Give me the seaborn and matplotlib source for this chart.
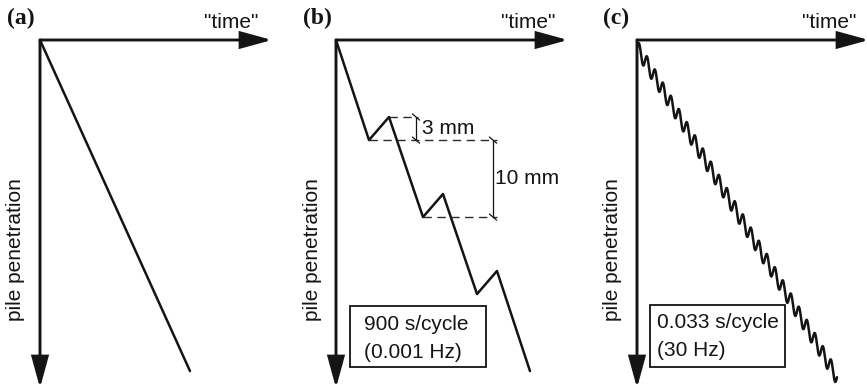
import numpy as np
import pandas as pd
import seaborn as sns
import matplotlib
matplotlib.use("Agg")
import matplotlib.pyplot as plt
from matplotlib.patches import Rectangle

# ---- data -------------------------------------------------------------
# (a) monotonic penetration
time_a = [0, 2500]          # s
pen_a = [0, 43]             # mm

# (b) slow cycling: 13 mm down, 3 mm rebound, 900 s per cycle
time_b = [0, 550, 883, 1450, 1783, 2350, 2683, 3233]
pen_b = [0, 13, 10, 23, 20, 33, 30, 43]

# (c) fast cycling: trend end points and oscillation
time_c = [0, 3333]
pen_c = [0, 42.8]
cycles_c = 25
amp_c = 1.0                 # mm

panel_letters = ["(a)", "(b)", "(c)"]
box_texts = [None, ["900 s/cycle", "(0.001 Hz)"], ["0.033 s/cycle", "(30 Hz)"]]
x_label = '"time"'
y_label = "pile penetration"

# ---- style ------------------------------------------------------------
sns.set_theme(style="white")
plt.rcParams["font.family"] = ["Liberation Sans", "DejaVu Sans"]

W, H = 867, 390
fig = plt.figure(figsize=(W / 100, H / 100), dpi=100)
fig.patch.set_facecolor("white")

INK = "#141414"
FS = 15
AX_W, AX_H = 240, 348        # axes box in pixels
T_MAX, P_MAX = 4000, 45.2    # data range covered by that box


def fx(x):
    return x / W


def fy(y):
    return 1 - y / H


def make_axes(x0, y0=40):
    ax = fig.add_axes([fx(x0), fy(y0 + AX_H), AX_W / W, AX_H / H])
    ax.set_xlim(0, T_MAX)
    ax.set_ylim(P_MAX, 0)
    ax.axis("off")
    # axis arrows
    arrow = dict(arrowstyle="-|>,head_length=1.9,head_width=0.52",
                 mutation_scale=10, lw=2.1, color=INK,
                 shrinkA=0, shrinkB=0, joinstyle="miter")
    ax.annotate("", xy=(232 / AX_W, 1), xytext=(0, 1),
                xycoords="axes fraction", arrowprops=arrow, annotation_clip=False)
    ax.annotate("", xy=(0, 0), xytext=(0, 1),
                xycoords="axes fraction", arrowprops=arrow, annotation_clip=False)
    return ax


origins = [40, 336, 637]
axes = [make_axes(x0) for x0 in origins]

# panel (a)
sns.lineplot(x=time_a, y=pen_a, ax=axes[0], color=INK, lw=1.8,
             sort=False, estimator=None)

# panel (b)
ax = axes[1]
sns.lineplot(x=time_b, y=pen_b, ax=ax, color=INK, lw=1.8,
             sort=False, estimator=None)
dash = dict(color="#2a2a2a", lw=1.0, ls=(0, (6, 4)))
t_dim3, t_dim10, t_dash_end = 1333, 2617, 2683
ax.plot([time_b[2], t_dim3 + 30], [pen_b[2], pen_b[2]], **dash)
ax.plot([time_b[1], t_dash_end], [pen_b[1], pen_b[1]], **dash)
ax.plot([time_b[3], t_dash_end], [pen_b[3], pen_b[3]], **dash)


def dimension(ax, t, p0, p1):
    ax.plot([t, t], [p0, p1], color=INK, lw=0.9)
    for p in (p0, p1):
        ax.plot([t - 60, t + 60], [p - 0.4, p + 0.4], color=INK, lw=0.9)


dimension(ax, t_dim3, pen_b[2], pen_b[1])
dimension(ax, t_dim10, pen_b[1], pen_b[3])
ax.text(t_dim3 + 95, (pen_b[1] + pen_b[2]) / 2, "3 mm", fontsize=FS,
        color=INK, va="center", ha="left")
ax.text(t_dim10 + 40, (pen_b[1] + pen_b[3]) / 2, "10 mm", fontsize=FS,
        color=INK, va="center", ha="left")

# panel (c)
ax = axes[2]
t = np.linspace(time_c[0], time_c[1], 4000)
trend = np.interp(t, time_c, pen_c)
omega = 2 * np.pi * cycles_c / time_c[1]
wave = trend + amp_c + amp_c * np.sin(omega * t + np.pi)
sns.lineplot(x=t, y=wave, ax=ax, color=INK, lw=1.8, sort=False, estimator=None)

# labels, boxes
letter_x = [7, 303, 603]
box_px = [None, (350, 306, 136, 61), (650, 305, 135, 62)]
text_left = [None, 364, 657]
time_cx = [231, 528, 829]
ylab_x = [16, 313, 613]

for i in range(3):
    fig.text(fx(letter_x[i]), fy(18), panel_letters[i], fontsize=17,
             fontweight="bold", family=["Liberation Serif", "DejaVu Serif"],
             color=INK, va="center", ha="left")
    fig.text(fx(time_cx[i]), fy(22), x_label, fontsize=FS, color=INK,
             va="center", ha="center")
    fig.text(fx(ylab_x[i]), fy(250), y_label, fontsize=FS, color=INK,
             rotation=90, va="center", ha="center")
    if box_texts[i] is not None:
        bx, by, bw, bh = box_px[i]
        fig.patches.append(Rectangle((fx(bx), fy(by + bh)), bw / W, bh / H,
                                     transform=fig.transFigure, facecolor="white",
                                     edgecolor=INK, lw=1.3, zorder=5))
        for k, line in enumerate(box_texts[i]):
            fig.text(fx(text_left[i]), fy(by + 18 + 28 * k), line, fontsize=FS,
                     color=INK, va="center", ha="left", zorder=6)

fig.savefig("out.png", dpi=100, facecolor="white")
